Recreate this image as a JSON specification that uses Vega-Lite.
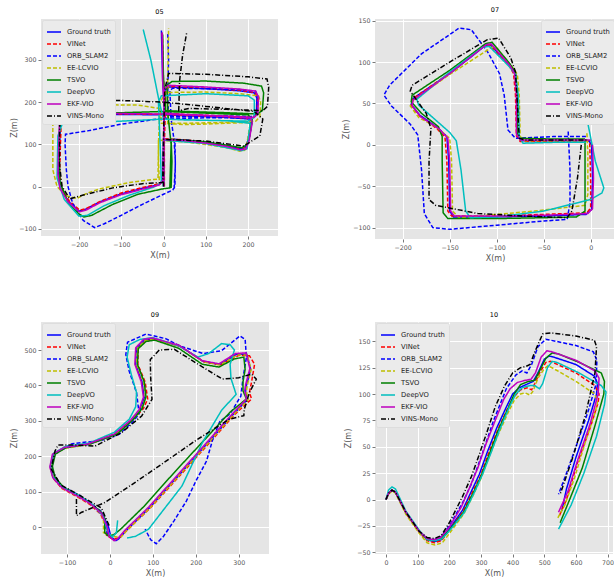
{
"$schema": "https://vega.github.io/schema/vega-lite/v6.json",
"background": "white",
"padding": {"left": 10, "top": 7, "right": 0, "bottom": 0},
"spacing": 48,
"config": {
  "font": "DejaVu Sans",
  "view": {"fill": "#E5E5E5", "stroke": null},
  "axis": {"gridColor": "#FFFFFF", "gridWidth": 1, "domain": false, "tickColor": "#555555", "tickSize": 3, "tickWidth": 0.8, "labelColor": "#555555", "labelFontSize": 6.3, "labelPadding": 2, "titleColor": "#555555", "titleFontSize": 8, "titleFontWeight": "normal", "labelFlush": false, "labelOverlap": false},
  "title": {"fontSize": 6.5, "fontWeight": "normal", "color": "#000000", "offset": 4},
  "legend": {"title": null, "symbolType": "stroke", "symbolSize": 196, "symbolStrokeWidth": 1.6, "labelFontSize": 6.8, "labelColor": "#222222", "fillColor": "#EBEBEB", "strokeColor": "#DDDDDD", "padding": 4, "offset": 1, "rowPadding": -1.5, "labelOffset": 5, "cornerRadius": 2}
},
"resolve": {"scale": {"color": "independent", "strokeDash": "independent"}, "legend": {"color": "independent", "strokeDash": "independent"}},
"datasets": {
"p05": [
{"m":"GT","x":0,"z":0},{"m":"GT","x":0,"z":60},{"m":"GT","x":0,"z":112},{"m":"GT","x":50,"z":110},{"m":"GT","x":100,"z":104},{"m":"GT","x":150,"z":96},{"m":"GT","x":180,"z":88},{"m":"GT","x":192,"z":90},{"m":"GT","x":200,"z":110},{"m":"GT","x":206,"z":150},{"m":"GT","x":204,"z":160},{"m":"GT","x":150,"z":164},{"m":"GT","x":100,"z":166},{"m":"GT","x":50,"z":168},{"m":"GT","x":0,"z":170},{"m":"GT","x":-100,"z":171},{"m":"GT","x":-200,"z":171},{"m":"GT","x":-238,"z":168},{"m":"GT","x":-244,"z":155},{"m":"GT","x":-246,"z":100},{"m":"GT","x":-248,"z":30},{"m":"GT","x":-243,"z":-5},{"m":"GT","x":-225,"z":-35},{"m":"GT","x":-200,"z":-58},{"m":"GT","x":-185,"z":-54},{"m":"GT","x":-150,"z":-36},{"m":"GT","x":-100,"z":-17},{"m":"GT","x":-50,"z":-4},{"m":"GT","x":-10,"z":5},{"m":"GT","x":-2,"z":15},{"m":"GT","x":0,"z":100},{"m":"GT","x":2,"z":170},{"m":"GT","x":3,"z":228},{"m":"GT","x":12,"z":236},{"m":"GT","x":100,"z":232},{"m":"GT","x":180,"z":227},{"m":"GT","x":215,"z":222},{"m":"GT","x":221,"z":210},{"m":"GT","x":220,"z":172},{"m":"GT","x":212,"z":163},{"m":"GT","x":150,"z":166},{"m":"GT","x":50,"z":170},{"m":"GT","x":3,"z":173},{"m":"GT","x":-2,"z":250},{"m":"GT","x":-5,"z":370},
{"m":"VI","x":2,"z":0},{"m":"VI","x":2,"z":60},{"m":"VI","x":2,"z":113},{"m":"VI","x":50,"z":111},{"m":"VI","x":100,"z":105},{"m":"VI","x":150,"z":97},{"m":"VI","x":182,"z":90},{"m":"VI","x":194,"z":92},{"m":"VI","x":202,"z":112},{"m":"VI","x":208,"z":150},{"m":"VI","x":206,"z":161},{"m":"VI","x":150,"z":165},{"m":"VI","x":100,"z":167},{"m":"VI","x":50,"z":169},{"m":"VI","x":2,"z":171},{"m":"VI","x":-100,"z":172},{"m":"VI","x":-200,"z":172},{"m":"VI","x":-236,"z":169},{"m":"VI","x":-242,"z":156},{"m":"VI","x":-244,"z":100},{"m":"VI","x":-246,"z":30},{"m":"VI","x":-241,"z":-4},{"m":"VI","x":-223,"z":-34},{"m":"VI","x":-198,"z":-56},{"m":"VI","x":-183,"z":-52},{"m":"VI","x":-148,"z":-34},{"m":"VI","x":-100,"z":-15},{"m":"VI","x":-50,"z":-2},{"m":"VI","x":-8,"z":7},{"m":"VI","x":0,"z":17},{"m":"VI","x":2,"z":100},{"m":"VI","x":4,"z":170},{"m":"VI","x":5,"z":229},{"m":"VI","x":14,"z":237},{"m":"VI","x":100,"z":233},{"m":"VI","x":180,"z":228},{"m":"VI","x":217,"z":223},{"m":"VI","x":223,"z":210},{"m":"VI","x":222,"z":172},{"m":"VI","x":214,"z":164},{"m":"VI","x":150,"z":167},{"m":"VI","x":50,"z":171},{"m":"VI","x":5,"z":174},{"m":"VI","x":0,"z":250},{"m":"VI","x":-3,"z":365},
{"m":"OR","x":25,"z":-5},{"m":"OR","x":28,"z":50},{"m":"OR","x":27,"z":112},{"m":"OR","x":100,"z":106},{"m":"OR","x":150,"z":98},{"m":"OR","x":183,"z":90},{"m":"OR","x":195,"z":93},{"m":"OR","x":203,"z":115},{"m":"OR","x":210,"z":155},{"m":"OR","x":205,"z":162},{"m":"OR","x":150,"z":163},{"m":"OR","x":100,"z":163},{"m":"OR","x":50,"z":162},{"m":"OR","x":0,"z":162},{"m":"OR","x":-13,"z":160},{"m":"OR","x":-100,"z":148},{"m":"OR","x":-180,"z":132},{"m":"OR","x":-232,"z":124},{"m":"OR","x":-233,"z":100},{"m":"OR","x":-230,"z":40},{"m":"OR","x":-226,"z":0},{"m":"OR","x":-215,"z":-40},{"m":"OR","x":-190,"z":-80},{"m":"OR","x":-163,"z":-97},{"m":"OR","x":-140,"z":-88},{"m":"OR","x":-100,"z":-68},{"m":"OR","x":-50,"z":-42},{"m":"OR","x":0,"z":-18},{"m":"OR","x":22,"z":-8},{"m":"OR","x":27,"z":0},{"m":"OR","x":28,"z":60},{"m":"OR","x":25,"z":110},{"m":"OR","x":18,"z":160},{"m":"OR","x":15,"z":228},{"m":"OR","x":22,"z":233},{"m":"OR","x":100,"z":232},{"m":"OR","x":180,"z":230},{"m":"OR","x":218,"z":226},{"m":"OR","x":224,"z":212},{"m":"OR","x":222,"z":175},{"m":"OR","x":212,"z":166},{"m":"OR","x":150,"z":167},{"m":"OR","x":50,"z":166},{"m":"OR","x":12,"z":166},{"m":"OR","x":10,"z":220},{"m":"OR","x":12,"z":300},{"m":"OR","x":10,"z":365},
{"m":"EE","x":-10,"z":15},{"m":"EE","x":-12,"z":60},{"m":"EE","x":-12,"z":110},{"m":"EE","x":50,"z":106},{"m":"EE","x":100,"z":100},{"m":"EE","x":150,"z":92},{"m":"EE","x":180,"z":84},{"m":"EE","x":192,"z":86},{"m":"EE","x":198,"z":105},{"m":"EE","x":205,"z":148},{"m":"EE","x":200,"z":152},{"m":"EE","x":150,"z":150},{"m":"EE","x":100,"z":148},{"m":"EE","x":50,"z":147},{"m":"EE","x":-5,"z":150},{"m":"EE","x":-8,"z":185},{"m":"EE","x":-60,"z":193},{"m":"EE","x":-150,"z":194},{"m":"EE","x":-240,"z":193},{"m":"EE","x":-255,"z":185},{"m":"EE","x":-262,"z":170},{"m":"EE","x":-262,"z":100},{"m":"EE","x":-262,"z":40},{"m":"EE","x":-252,"z":0},{"m":"EE","x":-230,"z":-22},{"m":"EE","x":-205,"z":-28},{"m":"EE","x":-180,"z":-15},{"m":"EE","x":-150,"z":-5},{"m":"EE","x":-80,"z":10},{"m":"EE","x":-13,"z":18},{"m":"EE","x":-12,"z":100},{"m":"EE","x":-8,"z":200},{"m":"EE","x":5,"z":223},{"m":"EE","x":100,"z":224},{"m":"EE","x":180,"z":220},{"m":"EE","x":225,"z":215},{"m":"EE","x":230,"z":200},{"m":"EE","x":228,"z":165},{"m":"EE","x":218,"z":155},{"m":"EE","x":150,"z":152},{"m":"EE","x":50,"z":150},{"m":"EE","x":10,"z":150},{"m":"EE","x":10,"z":250},{"m":"EE","x":12,"z":375},
{"m":"TS","x":18,"z":-3},{"m":"TS","x":20,"z":60},{"m":"TS","x":18,"z":112},{"m":"TS","x":100,"z":106},{"m":"TS","x":150,"z":98},{"m":"TS","x":185,"z":92},{"m":"TS","x":198,"z":100},{"m":"TS","x":204,"z":120},{"m":"TS","x":210,"z":160},{"m":"TS","x":200,"z":170},{"m":"TS","x":150,"z":172},{"m":"TS","x":50,"z":176},{"m":"TS","x":0,"z":178},{"m":"TS","x":-100,"z":175},{"m":"TS","x":-200,"z":172},{"m":"TS","x":-238,"z":168},{"m":"TS","x":-246,"z":140},{"m":"TS","x":-248,"z":100},{"m":"TS","x":-245,"z":10},{"m":"TS","x":-225,"z":-40},{"m":"TS","x":-200,"z":-65},{"m":"TS","x":-188,"z":-72},{"m":"TS","x":-170,"z":-68},{"m":"TS","x":-120,"z":-42},{"m":"TS","x":-60,"z":-18},{"m":"TS","x":0,"z":-5},{"m":"TS","x":15,"z":-3},{"m":"TS","x":18,"z":100},{"m":"TS","x":10,"z":175},{"m":"TS","x":8,"z":240},{"m":"TS","x":20,"z":249},{"m":"TS","x":100,"z":250},{"m":"TS","x":190,"z":245},{"m":"TS","x":232,"z":238},{"m":"TS","x":237,"z":222},{"m":"TS","x":234,"z":180},{"m":"TS","x":222,"z":172},{"m":"TS","x":150,"z":175},{"m":"TS","x":50,"z":178},{"m":"TS","x":5,"z":180},{"m":"TS","x":0,"z":260},{"m":"TS","x":-2,"z":360},
{"m":"DV","x":0,"z":0},{"m":"DV","x":0,"z":110},{"m":"DV","x":100,"z":102},{"m":"DV","x":185,"z":85},{"m":"DV","x":198,"z":90},{"m":"DV","x":205,"z":150},{"m":"DV","x":150,"z":156},{"m":"DV","x":50,"z":158},{"m":"DV","x":0,"z":160},{"m":"DV","x":-100,"z":155},{"m":"DV","x":-200,"z":150},{"m":"DV","x":-240,"z":148},{"m":"DV","x":-250,"z":120},{"m":"DV","x":-252,"z":20},{"m":"DV","x":-235,"z":-30},{"m":"DV","x":-200,"z":-70},{"m":"DV","x":-180,"z":-68},{"m":"DV","x":-140,"z":-45},{"m":"DV","x":-80,"z":-20},{"m":"DV","x":-20,"z":0},{"m":"DV","x":-5,"z":10},{"m":"DV","x":-8,"z":100},{"m":"DV","x":-12,"z":200},{"m":"DV","x":-5,"z":215},{"m":"DV","x":100,"z":220},{"m":"DV","x":200,"z":215},{"m":"DV","x":215,"z":205},{"m":"DV","x":215,"z":165},{"m":"DV","x":200,"z":155},{"m":"DV","x":100,"z":157},{"m":"DV","x":0,"z":160},{"m":"DV","x":-10,"z":200},{"m":"DV","x":-30,"z":300},{"m":"DV","x":-48,"z":372},
{"m":"EK","x":1,"z":0},{"m":"EK","x":1,"z":60},{"m":"EK","x":1,"z":111},{"m":"EK","x":50,"z":109},{"m":"EK","x":100,"z":103},{"m":"EK","x":150,"z":95},{"m":"EK","x":182,"z":87},{"m":"EK","x":195,"z":89},{"m":"EK","x":203,"z":110},{"m":"EK","x":210,"z":152},{"m":"EK","x":207,"z":162},{"m":"EK","x":150,"z":166},{"m":"EK","x":100,"z":168},{"m":"EK","x":50,"z":170},{"m":"EK","x":1,"z":172},{"m":"EK","x":-100,"z":173},{"m":"EK","x":-200,"z":173},{"m":"EK","x":-240,"z":170},{"m":"EK","x":-246,"z":156},{"m":"EK","x":-248,"z":100},{"m":"EK","x":-250,"z":30},{"m":"EK","x":-245,"z":-5},{"m":"EK","x":-226,"z":-36},{"m":"EK","x":-199,"z":-60},{"m":"EK","x":-184,"z":-56},{"m":"EK","x":-150,"z":-38},{"m":"EK","x":-100,"z":-19},{"m":"EK","x":-50,"z":-6},{"m":"EK","x":-10,"z":4},{"m":"EK","x":-2,"z":14},{"m":"EK","x":0,"z":100},{"m":"EK","x":1,"z":172},{"m":"EK","x":2,"z":232},{"m":"EK","x":12,"z":240},{"m":"EK","x":100,"z":236},{"m":"EK","x":180,"z":231},{"m":"EK","x":218,"z":226},{"m":"EK","x":225,"z":212},{"m":"EK","x":223,"z":172},{"m":"EK","x":214,"z":164},{"m":"EK","x":150,"z":167},{"m":"EK","x":50,"z":171},{"m":"EK","x":2,"z":174},{"m":"EK","x":-2,"z":250},{"m":"EK","x":-3,"z":365},
{"m":"VM","x":0,"z":0},{"m":"VM","x":0,"z":112},{"m":"VM","x":100,"z":108},{"m":"VM","x":190,"z":96},{"m":"VM","x":228,"z":120},{"m":"VM","x":235,"z":160},{"m":"VM","x":215,"z":178},{"m":"VM","x":100,"z":190},{"m":"VM","x":0,"z":200},{"m":"VM","x":-100,"z":204},{"m":"VM","x":-200,"z":205},{"m":"VM","x":-242,"z":203},{"m":"VM","x":-246,"z":150},{"m":"VM","x":-246,"z":50},{"m":"VM","x":-240,"z":0},{"m":"VM","x":-222,"z":-29},{"m":"VM","x":-190,"z":-20},{"m":"VM","x":-120,"z":-3},{"m":"VM","x":-50,"z":7},{"m":"VM","x":-2,"z":10},{"m":"VM","x":0,"z":120},{"m":"VM","x":3,"z":230},{"m":"VM","x":12,"z":268},{"m":"VM","x":100,"z":266},{"m":"VM","x":200,"z":260},{"m":"VM","x":245,"z":255},{"m":"VM","x":249,"z":235},{"m":"VM","x":246,"z":190},{"m":"VM","x":235,"z":180},{"m":"VM","x":150,"z":183},{"m":"VM","x":60,"z":185},{"m":"VM","x":36,"z":180},{"m":"VM","x":38,"z":250},{"m":"VM","x":45,"z":310},{"m":"VM","x":55,"z":365}
],
"p07": [
{"m":"GT","x":0,"z":5},{"m":"GT","x":-40,"z":5},{"m":"GT","x":-74,"z":5},{"m":"GT","x":-78,"z":12},{"m":"GT","x":-78,"z":60},{"m":"GT","x":-80,"z":85},{"m":"GT","x":-85,"z":95},{"m":"GT","x":-107,"z":121},{"m":"GT","x":-112,"z":120},{"m":"GT","x":-150,"z":86},{"m":"GT","x":-189,"z":56},{"m":"GT","x":-191,"z":49},{"m":"GT","x":-182,"z":36},{"m":"GT","x":-162,"z":20},{"m":"GT","x":-153,"z":10},{"m":"GT","x":-151,"z":-20},{"m":"GT","x":-150,"z":-80},{"m":"GT","x":-146,"z":-87},{"m":"GT","x":-100,"z":-87},{"m":"GT","x":-50,"z":-86},{"m":"GT","x":-5,"z":-84},{"m":"GT","x":1,"z":-78},{"m":"GT","x":2,"z":-40},{"m":"GT","x":1,"z":0},{"m":"GT","x":-2,"z":5},{"m":"GT","x":-20,"z":5},
{"m":"VI","x":-2,"z":5},{"m":"VI","x":-40,"z":4},{"m":"VI","x":-75,"z":4},{"m":"VI","x":-79,"z":11},{"m":"VI","x":-80,"z":60},{"m":"VI","x":-82,"z":86},{"m":"VI","x":-87,"z":96},{"m":"VI","x":-108,"z":121},{"m":"VI","x":-113,"z":120},{"m":"VI","x":-151,"z":86},{"m":"VI","x":-190,"z":55},{"m":"VI","x":-191,"z":48},{"m":"VI","x":-182,"z":35},{"m":"VI","x":-163,"z":19},{"m":"VI","x":-155,"z":9},{"m":"VI","x":-153,"z":-20},{"m":"VI","x":-152,"z":-80},{"m":"VI","x":-148,"z":-86},{"m":"VI","x":-100,"z":-86},{"m":"VI","x":-50,"z":-84},{"m":"VI","x":-4,"z":-82},{"m":"VI","x":0,"z":-76},{"m":"VI","x":0,"z":-40},{"m":"VI","x":-1,"z":2},
{"m":"OR","x":-5,"z":10},{"m":"OR","x":-40,"z":10},{"m":"OR","x":-80,"z":8},{"m":"OR","x":-88,"z":18},{"m":"OR","x":-92,"z":60},{"m":"OR","x":-97,"z":86},{"m":"OR","x":-110,"z":113},{"m":"OR","x":-127,"z":139},{"m":"OR","x":-140,"z":141},{"m":"OR","x":-180,"z":110},{"m":"OR","x":-214,"z":72},{"m":"OR","x":-220,"z":60},{"m":"OR","x":-212,"z":47},{"m":"OR","x":-192,"z":25},{"m":"OR","x":-184,"z":12},{"m":"OR","x":-180,"z":-30},{"m":"OR","x":-177,"z":-83},{"m":"OR","x":-168,"z":-100},{"m":"OR","x":-150,"z":-102},{"m":"OR","x":-100,"z":-97},{"m":"OR","x":-50,"z":-92},{"m":"OR","x":-25,"z":-90},{"m":"OR","x":-22,"z":-70},{"m":"OR","x":-22,"z":-30},{"m":"OR","x":-24,"z":18},
{"m":"EE","x":-4,"z":14},{"m":"EE","x":-3,"z":-10},{"m":"EE","x":-3,"z":-60},{"m":"EE","x":-6,"z":-73},{"m":"EE","x":-60,"z":-80},{"m":"EE","x":-140,"z":-88},{"m":"EE","x":-147,"z":-80},{"m":"EE","x":-148,"z":-20},{"m":"EE","x":-150,"z":8},{"m":"EE","x":-165,"z":22},{"m":"EE","x":-183,"z":33},{"m":"EE","x":-192,"z":47},{"m":"EE","x":-188,"z":55},{"m":"EE","x":-150,"z":85},{"m":"EE","x":-105,"z":118},{"m":"EE","x":-100,"z":117},{"m":"EE","x":-82,"z":92},{"m":"EE","x":-78,"z":85},{"m":"EE","x":-76,"z":60},{"m":"EE","x":-75,"z":10},{"m":"EE","x":-70,"z":5},{"m":"EE","x":-30,"z":5},{"m":"EE","x":-4,"z":5},
{"m":"TS","x":-6,"z":7},{"m":"TS","x":-40,"z":7},{"m":"TS","x":-76,"z":8},{"m":"TS","x":-78,"z":15},{"m":"TS","x":-78,"z":60},{"m":"TS","x":-80,"z":87},{"m":"TS","x":-86,"z":98},{"m":"TS","x":-105,"z":124},{"m":"TS","x":-112,"z":122},{"m":"TS","x":-150,"z":90},{"m":"TS","x":-190,"z":60},{"m":"TS","x":-191,"z":52},{"m":"TS","x":-180,"z":38},{"m":"TS","x":-162,"z":22},{"m":"TS","x":-158,"z":10},{"m":"TS","x":-158,"z":-20},{"m":"TS","x":-157,"z":-82},{"m":"TS","x":-152,"z":-89},{"m":"TS","x":-100,"z":-89},{"m":"TS","x":-50,"z":-88},{"m":"TS","x":-15,"z":-87},{"m":"TS","x":-6,"z":-80},{"m":"TS","x":-6,"z":-40},{"m":"TS","x":-6,"z":7},
{"m":"DV","x":-5,"z":3},{"m":"DV","x":-40,"z":3},{"m":"DV","x":-72,"z":2},{"m":"DV","x":-76,"z":10},{"m":"DV","x":-77,"z":60},{"m":"DV","x":-80,"z":85},{"m":"DV","x":-87,"z":95},{"m":"DV","x":-108,"z":119},{"m":"DV","x":-115,"z":118},{"m":"DV","x":-150,"z":88},{"m":"DV","x":-185,"z":55},{"m":"DV","x":-183,"z":48},{"m":"DV","x":-165,"z":30},{"m":"DV","x":-150,"z":15},{"m":"DV","x":-143,"z":5},{"m":"DV","x":-138,"z":-30},{"m":"DV","x":-133,"z":-80},{"m":"DV","x":-128,"z":-88},{"m":"DV","x":-100,"z":-87},{"m":"DV","x":-50,"z":-80},{"m":"DV","x":0,"z":-66},{"m":"DV","x":12,"z":-58},{"m":"DV","x":14,"z":-52},{"m":"DV","x":5,"z":-20},{"m":"DV","x":-3,"z":26},
{"m":"EK","x":0,"z":6},{"m":"EK","x":-40,"z":6},{"m":"EK","x":-75,"z":6},{"m":"EK","x":-79,"z":13},{"m":"EK","x":-79,"z":60},{"m":"EK","x":-81,"z":86},{"m":"EK","x":-86,"z":96},{"m":"EK","x":-106,"z":122},{"m":"EK","x":-111,"z":121},{"m":"EK","x":-149,"z":87},{"m":"EK","x":-189,"z":54},{"m":"EK","x":-190,"z":47},{"m":"EK","x":-181,"z":34},{"m":"EK","x":-161,"z":19},{"m":"EK","x":-152,"z":8},{"m":"EK","x":-150,"z":-20},{"m":"EK","x":-149,"z":-80},{"m":"EK","x":-145,"z":-86},{"m":"EK","x":-100,"z":-86},{"m":"EK","x":-50,"z":-85},{"m":"EK","x":-3,"z":-83},{"m":"EK","x":2,"z":-77},{"m":"EK","x":3,"z":-40},{"m":"EK","x":2,"z":0},
{"m":"VM","x":-10,"z":0},{"m":"VM","x":-14,"z":-40},{"m":"VM","x":-20,"z":-80},{"m":"VM","x":-25,"z":-88},{"m":"VM","x":-70,"z":-86},{"m":"VM","x":-120,"z":-83},{"m":"VM","x":-165,"z":-73},{"m":"VM","x":-172,"z":-66},{"m":"VM","x":-172,"z":-20},{"m":"VM","x":-170,"z":20},{"m":"VM","x":-175,"z":38},{"m":"VM","x":-192,"z":65},{"m":"VM","x":-190,"z":72},{"m":"VM","x":-150,"z":100},{"m":"VM","x":-110,"z":127},{"m":"VM","x":-98,"z":129},{"m":"VM","x":-85,"z":105},{"m":"VM","x":-80,"z":88},{"m":"VM","x":-78,"z":50},{"m":"VM","x":-76,"z":8},{"m":"VM","x":-70,"z":6},{"m":"VM","x":-30,"z":6},{"m":"VM","x":-3,"z":6}
],
"p09": [
{"m":"GT","x":13,"z":-38},{"m":"GT","x":2,"z":-25},{"m":"GT","x":-3,"z":0},{"m":"GT","x":-18,"z":40},{"m":"GT","x":-45,"z":68},{"m":"GT","x":-73,"z":88},{"m":"GT","x":-110,"z":112},{"m":"GT","x":-130,"z":140},{"m":"GT","x":-137,"z":170},{"m":"GT","x":-131,"z":205},{"m":"GT","x":-104,"z":224},{"m":"GT","x":-49,"z":234},{"m":"GT","x":13,"z":262},{"m":"GT","x":50,"z":300},{"m":"GT","x":70,"z":330},{"m":"GT","x":80,"z":365},{"m":"GT","x":75,"z":410},{"m":"GT","x":60,"z":460},{"m":"GT","x":62,"z":505},{"m":"GT","x":80,"z":528},{"m":"GT","x":100,"z":532},{"m":"GT","x":162,"z":512},{"m":"GT","x":217,"z":468},{"m":"GT","x":256,"z":459},{"m":"GT","x":295,"z":488},{"m":"GT","x":319,"z":488},{"m":"GT","x":328,"z":445},{"m":"GT","x":318,"z":400},{"m":"GT","x":316,"z":384},{"m":"GT","x":320,"z":360},{"m":"GT","x":287,"z":318},{"m":"GT","x":225,"z":234},{"m":"GT","x":162,"z":149},{"m":"GT","x":92,"z":55},{"m":"GT","x":37,"z":-10},{"m":"GT","x":20,"z":-33},{"m":"GT","x":13,"z":-38},
{"m":"VI","x":5,"z":-32},{"m":"VI","x":-8,"z":-22},{"m":"VI","x":-8,"z":0},{"m":"VI","x":-22,"z":38},{"m":"VI","x":-48,"z":66},{"m":"VI","x":-76,"z":86},{"m":"VI","x":-112,"z":110},{"m":"VI","x":-132,"z":138},{"m":"VI","x":-139,"z":170},{"m":"VI","x":-133,"z":206},{"m":"VI","x":-106,"z":226},{"m":"VI","x":-50,"z":236},{"m":"VI","x":15,"z":265},{"m":"VI","x":55,"z":305},{"m":"VI","x":78,"z":335},{"m":"VI","x":88,"z":362},{"m":"VI","x":82,"z":410},{"m":"VI","x":65,"z":460},{"m":"VI","x":66,"z":505},{"m":"VI","x":84,"z":526},{"m":"VI","x":104,"z":530},{"m":"VI","x":164,"z":510},{"m":"VI","x":220,"z":466},{"m":"VI","x":258,"z":458},{"m":"VI","x":300,"z":485},{"m":"VI","x":325,"z":484},{"m":"VI","x":337,"z":460},{"m":"VI","x":330,"z":410},{"m":"VI","x":325,"z":380},{"m":"VI","x":330,"z":362},{"m":"VI","x":292,"z":320},{"m":"VI","x":230,"z":236},{"m":"VI","x":166,"z":150},{"m":"VI","x":95,"z":56},{"m":"VI","x":40,"z":-8},{"m":"VI","x":22,"z":-30},{"m":"VI","x":5,"z":-32},
{"m":"OR","x":-5,"z":-20},{"m":"OR","x":-20,"z":45},{"m":"OR","x":-70,"z":90},{"m":"OR","x":-115,"z":118},{"m":"OR","x":-135,"z":160},{"m":"OR","x":-131,"z":208},{"m":"OR","x":-88,"z":236},{"m":"OR","x":-20,"z":245},{"m":"OR","x":21,"z":262},{"m":"OR","x":55,"z":300},{"m":"OR","x":68,"z":320},{"m":"OR","x":62,"z":380},{"m":"OR","x":45,"z":440},{"m":"OR","x":37,"z":487},{"m":"OR","x":41,"z":522},{"m":"OR","x":84,"z":545},{"m":"OR","x":130,"z":532},{"m":"OR","x":162,"z":512},{"m":"OR","x":217,"z":490},{"m":"OR","x":260,"z":498},{"m":"OR","x":303,"z":540},{"m":"OR","x":315,"z":530},{"m":"OR","x":318,"z":480},{"m":"OR","x":310,"z":420},{"m":"OR","x":305,"z":370},{"m":"OR","x":280,"z":320},{"m":"OR","x":256,"z":299},{"m":"OR","x":240,"z":250},{"m":"OR","x":225,"z":187},{"m":"OR","x":200,"z":130},{"m":"OR","x":178,"z":74},{"m":"OR","x":150,"z":20},{"m":"OR","x":125,"z":-25},{"m":"OR","x":108,"z":-46},{"m":"OR","x":95,"z":-35},{"m":"OR","x":82,"z":-5},
{"m":"EE","x":18,"z":-28},{"m":"EE","x":-15,"z":-15},{"m":"EE","x":-15,"z":20},{"m":"EE","x":-20,"z":42},{"m":"EE","x":-46,"z":67},{"m":"EE","x":-74,"z":87},{"m":"EE","x":-111,"z":111},{"m":"EE","x":-131,"z":139},{"m":"EE","x":-138,"z":170},{"m":"EE","x":-132,"z":205},{"m":"EE","x":-105,"z":223},{"m":"EE","x":-50,"z":233},{"m":"EE","x":12,"z":261},{"m":"EE","x":52,"z":302},{"m":"EE","x":72,"z":332},{"m":"EE","x":83,"z":365},{"m":"EE","x":78,"z":410},{"m":"EE","x":62,"z":460},{"m":"EE","x":64,"z":505},{"m":"EE","x":82,"z":526},{"m":"EE","x":102,"z":530},{"m":"EE","x":163,"z":511},{"m":"EE","x":218,"z":467},{"m":"EE","x":257,"z":458},{"m":"EE","x":296,"z":486},{"m":"EE","x":320,"z":486},{"m":"EE","x":329,"z":445},{"m":"EE","x":320,"z":400},{"m":"EE","x":318,"z":385},{"m":"EE","x":322,"z":360},{"m":"EE","x":288,"z":318},{"m":"EE","x":226,"z":234},{"m":"EE","x":163,"z":149},{"m":"EE","x":93,"z":55},{"m":"EE","x":38,"z":-10},{"m":"EE","x":25,"z":-28},
{"m":"TS","x":-3,"z":-25},{"m":"TS","x":-12,"z":-15},{"m":"TS","x":-12,"z":25},{"m":"TS","x":-22,"z":45},{"m":"TS","x":-48,"z":70},{"m":"TS","x":-74,"z":90},{"m":"TS","x":-108,"z":113},{"m":"TS","x":-128,"z":142},{"m":"TS","x":-134,"z":172},{"m":"TS","x":-127,"z":207},{"m":"TS","x":-100,"z":226},{"m":"TS","x":-45,"z":236},{"m":"TS","x":18,"z":264},{"m":"TS","x":55,"z":305},{"m":"TS","x":75,"z":335},{"m":"TS","x":84,"z":368},{"m":"TS","x":80,"z":410},{"m":"TS","x":64,"z":460},{"m":"TS","x":66,"z":504},{"m":"TS","x":84,"z":524},{"m":"TS","x":104,"z":528},{"m":"TS","x":160,"z":505},{"m":"TS","x":215,"z":460},{"m":"TS","x":254,"z":452},{"m":"TS","x":290,"z":475},{"m":"TS","x":312,"z":480},{"m":"TS","x":315,"z":445},{"m":"TS","x":310,"z":410},{"m":"TS","x":310,"z":385},{"m":"TS","x":318,"z":362},{"m":"TS","x":280,"z":325},{"m":"TS","x":215,"z":240},{"m":"TS","x":150,"z":155},{"m":"TS","x":80,"z":60},{"m":"TS","x":25,"z":-5},{"m":"TS","x":10,"z":-20},{"m":"TS","x":-3,"z":-25},
{"m":"DV","x":18,"z":20},{"m":"DV","x":15,"z":-15},{"m":"DV","x":5,"z":-28},{"m":"DV","x":-6,"z":-10},{"m":"DV","x":-15,"z":30},{"m":"DV","x":-42,"z":66},{"m":"DV","x":-72,"z":90},{"m":"DV","x":-112,"z":114},{"m":"DV","x":-133,"z":142},{"m":"DV","x":-139,"z":172},{"m":"DV","x":-132,"z":208},{"m":"DV","x":-104,"z":228},{"m":"DV","x":-48,"z":238},{"m":"DV","x":10,"z":268},{"m":"DV","x":45,"z":305},{"m":"DV","x":60,"z":340},{"m":"DV","x":62,"z":380},{"m":"DV","x":50,"z":430},{"m":"DV","x":40,"z":480},{"m":"DV","x":45,"z":515},{"m":"DV","x":70,"z":530},{"m":"DV","x":100,"z":535},{"m":"DV","x":160,"z":512},{"m":"DV","x":205,"z":480},{"m":"DV","x":230,"z":490},{"m":"DV","x":260,"z":518},{"m":"DV","x":280,"z":515},{"m":"DV","x":290,"z":500},{"m":"DV","x":280,"z":460},{"m":"DV","x":282,"z":420},{"m":"DV","x":294,"z":375},{"m":"DV","x":260,"z":330},{"m":"DV","x":215,"z":238},{"m":"DV","x":168,"z":117},{"m":"DV","x":90,"z":-5},{"m":"DV","x":60,"z":-25},{"m":"DV","x":40,"z":-30},
{"m":"EK","x":10,"z":-38},{"m":"EK","x":-2,"z":-25},{"m":"EK","x":-6,"z":0},{"m":"EK","x":-20,"z":40},{"m":"EK","x":-47,"z":68},{"m":"EK","x":-75,"z":88},{"m":"EK","x":-112,"z":112},{"m":"EK","x":-133,"z":140},{"m":"EK","x":-140,"z":170},{"m":"EK","x":-134,"z":206},{"m":"EK","x":-107,"z":225},{"m":"EK","x":-52,"z":235},{"m":"EK","x":10,"z":263},{"m":"EK","x":48,"z":302},{"m":"EK","x":68,"z":332},{"m":"EK","x":78,"z":367},{"m":"EK","x":73,"z":410},{"m":"EK","x":58,"z":460},{"m":"EK","x":60,"z":506},{"m":"EK","x":78,"z":530},{"m":"EK","x":98,"z":534},{"m":"EK","x":160,"z":514},{"m":"EK","x":215,"z":470},{"m":"EK","x":254,"z":461},{"m":"EK","x":292,"z":490},{"m":"EK","x":317,"z":492},{"m":"EK","x":326,"z":448},{"m":"EK","x":316,"z":402},{"m":"EK","x":314,"z":386},{"m":"EK","x":318,"z":362},{"m":"EK","x":285,"z":320},{"m":"EK","x":223,"z":236},{"m":"EK","x":160,"z":151},{"m":"EK","x":90,"z":57},{"m":"EK","x":35,"z":-8},{"m":"EK","x":18,"z":-32},{"m":"EK","x":10,"z":-38},
{"m":"VM","x":-2,"z":5},{"m":"VM","x":-20,"z":55},{"m":"VM","x":-70,"z":90},{"m":"VM","x":-115,"z":120},{"m":"VM","x":-137,"z":165},{"m":"VM","x":-128,"z":215},{"m":"VM","x":-121,"z":232},{"m":"VM","x":-80,"z":232},{"m":"VM","x":-35,"z":229},{"m":"VM","x":27,"z":267},{"m":"VM","x":74,"z":314},{"m":"VM","x":98,"z":361},{"m":"VM","x":95,"z":420},{"m":"VM","x":94,"z":473},{"m":"VM","x":115,"z":500},{"m":"VM","x":150,"z":502},{"m":"VM","x":200,"z":464},{"m":"VM","x":262,"z":418},{"m":"VM","x":300,"z":422},{"m":"VM","x":330,"z":432},{"m":"VM","x":341,"z":418},{"m":"VM","x":325,"z":380},{"m":"VM","x":313,"z":333},{"m":"VM","x":312,"z":315},{"m":"VM","x":278,"z":305},{"m":"VM","x":200,"z":245},{"m":"VM","x":137,"z":192},{"m":"VM","x":59,"z":127},{"m":"VM","x":-12,"z":70},{"m":"VM","x":-67,"z":42},{"m":"VM","x":-78,"z":33},{"m":"VM","x":-78,"z":80}
],
"p10": [
{"m":"GT","x":0,"z":0},{"m":"GT","x":8,"z":6},{"m":"GT","x":19,"z":9},{"m":"GT","x":30,"z":7},{"m":"GT","x":63,"z":-12},{"m":"GT","x":105,"z":-30},{"m":"GT","x":130,"z":-38},{"m":"GT","x":153,"z":-40},{"m":"GT","x":175,"z":-38},{"m":"GT","x":200,"z":-28},{"m":"GT","x":242,"z":-10},{"m":"GT","x":270,"z":8},{"m":"GT","x":295,"z":24},{"m":"GT","x":320,"z":45},{"m":"GT","x":350,"z":68},{"m":"GT","x":379,"z":87},{"m":"GT","x":400,"z":100},{"m":"GT","x":421,"z":106},{"m":"GT","x":450,"z":110},{"m":"GT","x":465,"z":112},{"m":"GT","x":480,"z":120},{"m":"GT","x":500,"z":133},{"m":"GT","x":515,"z":136},{"m":"GT","x":530,"z":135},{"m":"GT","x":600,"z":128},{"m":"GT","x":658,"z":117},{"m":"GT","x":668,"z":110},{"m":"GT","x":665,"z":100},{"m":"GT","x":640,"z":75},{"m":"GT","x":600,"z":40},{"m":"GT","x":570,"z":10},{"m":"GT","x":555,"z":-11},
{"m":"VI","x":0,"z":0},{"m":"VI","x":8,"z":6},{"m":"VI","x":19,"z":9},{"m":"VI","x":30,"z":7},{"m":"VI","x":63,"z":-13},{"m":"VI","x":105,"z":-31},{"m":"VI","x":130,"z":-39},{"m":"VI","x":153,"z":-41},{"m":"VI","x":175,"z":-39},{"m":"VI","x":200,"z":-29},{"m":"VI","x":242,"z":-12},{"m":"VI","x":270,"z":5},{"m":"VI","x":298,"z":22},{"m":"VI","x":323,"z":43},{"m":"VI","x":353,"z":66},{"m":"VI","x":382,"z":85},{"m":"VI","x":403,"z":97},{"m":"VI","x":425,"z":104},{"m":"VI","x":445,"z":106},{"m":"VI","x":460,"z":104},{"m":"VI","x":470,"z":110},{"m":"VI","x":485,"z":120},{"m":"VI","x":505,"z":130},{"m":"VI","x":520,"z":131},{"m":"VI","x":600,"z":120},{"m":"VI","x":660,"z":108},{"m":"VI","x":673,"z":100},{"m":"VI","x":670,"z":92},{"m":"VI","x":645,"z":68},{"m":"VI","x":605,"z":35},{"m":"VI","x":570,"z":0},{"m":"VI","x":548,"z":-15},
{"m":"OR","x":0,"z":0},{"m":"OR","x":8,"z":6},{"m":"OR","x":19,"z":9},{"m":"OR","x":30,"z":7},{"m":"OR","x":63,"z":-12},{"m":"OR","x":105,"z":-30},{"m":"OR","x":130,"z":-37},{"m":"OR","x":153,"z":-38},{"m":"OR","x":175,"z":-35},{"m":"OR","x":200,"z":-25},{"m":"OR","x":242,"z":-3},{"m":"OR","x":270,"z":15},{"m":"OR","x":300,"z":40},{"m":"OR","x":340,"z":75},{"m":"OR","x":380,"z":105},{"m":"OR","x":410,"z":118},{"m":"OR","x":430,"z":122},{"m":"OR","x":445,"z":120},{"m":"OR","x":460,"z":128},{"m":"OR","x":480,"z":145},{"m":"OR","x":505,"z":152},{"m":"OR","x":600,"z":146},{"m":"OR","x":655,"z":140},{"m":"OR","x":666,"z":132},{"m":"OR","x":664,"z":110},{"m":"OR","x":640,"z":85},{"m":"OR","x":600,"z":50},{"m":"OR","x":570,"z":25},{"m":"OR","x":545,"z":5},
{"m":"EE","x":0,"z":0},{"m":"EE","x":8,"z":5},{"m":"EE","x":19,"z":8},{"m":"EE","x":30,"z":6},{"m":"EE","x":63,"z":-14},{"m":"EE","x":105,"z":-32},{"m":"EE","x":130,"z":-41},{"m":"EE","x":155,"z":-43},{"m":"EE","x":178,"z":-41},{"m":"EE","x":203,"z":-31},{"m":"EE","x":245,"z":-14},{"m":"EE","x":275,"z":4},{"m":"EE","x":300,"z":20},{"m":"EE","x":325,"z":40},{"m":"EE","x":355,"z":62},{"m":"EE","x":385,"z":82},{"m":"EE","x":405,"z":94},{"m":"EE","x":425,"z":100},{"m":"EE","x":440,"z":101},{"m":"EE","x":455,"z":99},{"m":"EE","x":465,"z":103},{"m":"EE","x":480,"z":115},{"m":"EE","x":500,"z":124},{"m":"EE","x":512,"z":127},{"m":"EE","x":530,"z":124},{"m":"EE","x":600,"z":112},{"m":"EE","x":660,"z":100},{"m":"EE","x":668,"z":92},{"m":"EE","x":660,"z":82},{"m":"EE","x":630,"z":55},{"m":"EE","x":595,"z":20},{"m":"EE","x":565,"z":-5},{"m":"EE","x":540,"z":-19},
{"m":"TS","x":0,"z":0},{"m":"TS","x":8,"z":6},{"m":"TS","x":19,"z":9},{"m":"TS","x":30,"z":7},{"m":"TS","x":63,"z":-12},{"m":"TS","x":105,"z":-30},{"m":"TS","x":130,"z":-38},{"m":"TS","x":153,"z":-39},{"m":"TS","x":175,"z":-37},{"m":"TS","x":200,"z":-29},{"m":"TS","x":245,"z":-12},{"m":"TS","x":275,"z":6},{"m":"TS","x":300,"z":22},{"m":"TS","x":325,"z":42},{"m":"TS","x":355,"z":66},{"m":"TS","x":385,"z":86},{"m":"TS","x":405,"z":100},{"m":"TS","x":425,"z":109},{"m":"TS","x":450,"z":112},{"m":"TS","x":470,"z":113},{"m":"TS","x":485,"z":122},{"m":"TS","x":505,"z":134},{"m":"TS","x":525,"z":139},{"m":"TS","x":545,"z":138},{"m":"TS","x":610,"z":130},{"m":"TS","x":680,"z":120},{"m":"TS","x":690,"z":112},{"m":"TS","x":688,"z":100},{"m":"TS","x":660,"z":70},{"m":"TS","x":620,"z":30},{"m":"TS","x":580,"z":0},{"m":"TS","x":550,"z":-22},
{"m":"DV","x":0,"z":0},{"m":"DV","x":8,"z":9},{"m":"DV","x":19,"z":12},{"m":"DV","x":30,"z":10},{"m":"DV","x":63,"z":-11},{"m":"DV","x":105,"z":-29},{"m":"DV","x":130,"z":-38},{"m":"DV","x":155,"z":-39},{"m":"DV","x":178,"z":-37},{"m":"DV","x":205,"z":-28},{"m":"DV","x":248,"z":-12},{"m":"DV","x":278,"z":6},{"m":"DV","x":305,"z":24},{"m":"DV","x":330,"z":43},{"m":"DV","x":360,"z":67},{"m":"DV","x":390,"z":88},{"m":"DV","x":410,"z":100},{"m":"DV","x":430,"z":106},{"m":"DV","x":455,"z":108},{"m":"DV","x":470,"z":108},{"m":"DV","x":485,"z":105},{"m":"DV","x":495,"z":110},{"m":"DV","x":510,"z":125},{"m":"DV","x":525,"z":131},{"m":"DV","x":540,"z":130},{"m":"DV","x":610,"z":120},{"m":"DV","x":680,"z":108},{"m":"DV","x":695,"z":102},{"m":"DV","x":690,"z":90},{"m":"DV","x":665,"z":60},{"m":"DV","x":625,"z":25},{"m":"DV","x":585,"z":-5},{"m":"DV","x":545,"z":-28},
{"m":"EK","x":0,"z":0},{"m":"EK","x":8,"z":6},{"m":"EK","x":19,"z":9},{"m":"EK","x":30,"z":7},{"m":"EK","x":63,"z":-12},{"m":"EK","x":105,"z":-30},{"m":"EK","x":130,"z":-37},{"m":"EK","x":152,"z":-38},{"m":"EK","x":172,"z":-36},{"m":"EK","x":198,"z":-27},{"m":"EK","x":238,"z":-7},{"m":"EK","x":265,"z":12},{"m":"EK","x":290,"z":30},{"m":"EK","x":315,"z":52},{"m":"EK","x":345,"z":75},{"m":"EK","x":372,"z":95},{"m":"EK","x":392,"z":105},{"m":"EK","x":415,"z":111},{"m":"EK","x":440,"z":113},{"m":"EK","x":458,"z":114},{"m":"EK","x":472,"z":120},{"m":"EK","x":490,"z":135},{"m":"EK","x":508,"z":141},{"m":"EK","x":525,"z":140},{"m":"EK","x":600,"z":132},{"m":"EK","x":660,"z":122},{"m":"EK","x":673,"z":115},{"m":"EK","x":670,"z":100},{"m":"EK","x":645,"z":72},{"m":"EK","x":605,"z":37},{"m":"EK","x":575,"z":8},{"m":"EK","x":545,"z":-12},
{"m":"VM","x":0,"z":0},{"m":"VM","x":8,"z":6},{"m":"VM","x":19,"z":9},{"m":"VM","x":30,"z":7},{"m":"VM","x":63,"z":-12},{"m":"VM","x":105,"z":-30},{"m":"VM","x":130,"z":-36},{"m":"VM","x":153,"z":-37},{"m":"VM","x":175,"z":-34},{"m":"VM","x":200,"z":-22},{"m":"VM","x":242,"z":3},{"m":"VM","x":270,"z":22},{"m":"VM","x":295,"z":43},{"m":"VM","x":320,"z":65},{"m":"VM","x":345,"z":88},{"m":"VM","x":375,"z":108},{"m":"VM","x":400,"z":120},{"m":"VM","x":425,"z":125},{"m":"VM","x":440,"z":126},{"m":"VM","x":455,"z":128},{"m":"VM","x":470,"z":140},{"m":"VM","x":495,"z":157},{"m":"VM","x":520,"z":158},{"m":"VM","x":600,"z":155},{"m":"VM","x":658,"z":151},{"m":"VM","x":665,"z":145},{"m":"VM","x":660,"z":120},{"m":"VM","x":630,"z":80},{"m":"VM","x":590,"z":40},{"m":"VM","x":550,"z":5}
]
},
"vconcat": [
{
"spacing": 64,
"resolve": {"scale": {"color": "independent", "strokeDash": "independent"}, "legend": {"color": "independent", "strokeDash": "independent"}},
"hconcat": [
{
"title": "05", "width": 237, "height": 217,
"data": {"name": "p05"},
"mark": {"type": "line", "strokeWidth": 1.5, "clip": true},
"encoding": {
"x": {"field": "x", "type": "quantitative", "scale": {"domain": [-290, 271], "nice": false, "zero": false}, "axis": {"title": "X(m)", "values": [-200,-100,0,100,200], "titlePadding": 4}},
"y": {"field": "z", "type": "quantitative", "scale": {"domain": [-117, 397], "nice": false, "zero": false}, "axis": {"title": "Z(m)", "values": [-100,0,100,200,300], "minExtent": 22, "maxExtent": 22, "titlePadding": 1}},
"color": {"field": "m", "type": "nominal", "scale": {"domain": ["GT","VI","OR","EE","TS","DV","EK","VM"], "range": ["#0000FF","#FF0000","#0000FF","#BFBF00","#008000","#00BFBF","#BF00BF","#000000"]}, "legend": {"orient": "top-left", "labelExpr": "datum.label=='GT'?'Ground truth':datum.label=='VI'?'VINet':datum.label=='OR'?'ORB_SLAM2':datum.label=='EE'?'EE-LCVIO':datum.label=='TS'?'TSVO':datum.label=='DV'?'DeepVO':datum.label=='EK'?'EKF-VIO':'VINS-Mono'"}},
"strokeDash": {"field": "m", "type": "nominal", "scale": {"domain": ["GT","VI","OR","EE","TS","DV","EK","VM"], "range": [[1,0],[4,2],[4,2],[4,2],[1,0],[1,0],[1,0],[5,2,1,2]]}, "legend": {"orient": "top-left", "labelExpr": "datum.label=='GT'?'Ground truth':datum.label=='VI'?'VINet':datum.label=='OR'?'ORB_SLAM2':datum.label=='EE'?'EE-LCVIO':datum.label=='TS'?'TSVO':datum.label=='DV'?'DeepVO':datum.label=='EK'?'EKF-VIO':'VINS-Mono'"}},
"order": {"value": null}
}
},
{
"title": "07", "width": 240, "height": 220,
"data": {"name": "p07"},
"mark": {"type": "line", "strokeWidth": 1.5, "clip": true},
"encoding": {
"x": {"field": "x", "type": "quantitative", "scale": {"domain": [-229.5, 25.9], "nice": false, "zero": false}, "axis": {"title": "X(m)", "values": [-200,-150,-100,-50,0], "titlePadding": 4}},
"y": {"field": "z", "type": "quantitative", "scale": {"domain": [-113.7, 152], "nice": false, "zero": false}, "axis": {"title": "Z(m)", "values": [-100,-50,0,50,100,150], "minExtent": 22, "maxExtent": 22, "titlePadding": 3}},
"color": {"field": "m", "type": "nominal", "scale": {"domain": ["GT","VI","OR","EE","TS","DV","EK","VM"], "range": ["#0000FF","#FF0000","#0000FF","#BFBF00","#008000","#00BFBF","#BF00BF","#000000"]}, "legend": {"orient": "top-right", "labelExpr": "datum.label=='GT'?'Ground truth':datum.label=='VI'?'VINet':datum.label=='OR'?'ORB_SLAM2':datum.label=='EE'?'EE-LCVIO':datum.label=='TS'?'TSVO':datum.label=='DV'?'DeepVO':datum.label=='EK'?'EKF-VIO':'VINS-Mono'"}},
"strokeDash": {"field": "m", "type": "nominal", "scale": {"domain": ["GT","VI","OR","EE","TS","DV","EK","VM"], "range": [[1,0],[4,2],[4,2],[4,2],[1,0],[1,0],[1,0],[5,2,1,2]]}, "legend": {"orient": "top-right", "labelExpr": "datum.label=='GT'?'Ground truth':datum.label=='VI'?'VINet':datum.label=='OR'?'ORB_SLAM2':datum.label=='EE'?'EE-LCVIO':datum.label=='TS'?'TSVO':datum.label=='DV'?'DeepVO':datum.label=='EK'?'EKF-VIO':'VINS-Mono'"}},
"order": {"value": null}
}
}
]
},
{
"spacing": 75,
"resolve": {"scale": {"color": "independent", "strokeDash": "independent"}, "legend": {"color": "independent", "strokeDash": "independent"}},
"hconcat": [
{
"title": "09", "width": 228, "height": 232,
"data": {"name": "p09"},
"mark": {"type": "line", "strokeWidth": 1.5, "clip": true},
"encoding": {
"x": {"field": "x", "type": "quantitative", "scale": {"domain": [-160.6, 370.6], "nice": false, "zero": false}, "axis": {"title": "X(m)", "values": [-100,0,100,200,300], "titlePadding": 4}},
"y": {"field": "z", "type": "quantitative", "scale": {"domain": [-75, 579], "nice": false, "zero": false}, "axis": {"title": "Z(m)", "values": [0,100,200,300,400,500], "minExtent": 22, "maxExtent": 22, "titlePadding": 1}},
"color": {"field": "m", "type": "nominal", "scale": {"domain": ["GT","VI","OR","EE","TS","DV","EK","VM"], "range": ["#0000FF","#FF0000","#0000FF","#BFBF00","#008000","#00BFBF","#BF00BF","#000000"]}, "legend": {"orient": "top-left", "labelExpr": "datum.label=='GT'?'Ground truth':datum.label=='VI'?'VINet':datum.label=='OR'?'ORB_SLAM2':datum.label=='EE'?'EE-LCVIO':datum.label=='TS'?'TSVO':datum.label=='DV'?'DeepVO':datum.label=='EK'?'EKF-VIO':'VINS-Mono'"}},
"strokeDash": {"field": "m", "type": "nominal", "scale": {"domain": ["GT","VI","OR","EE","TS","DV","EK","VM"], "range": [[1,0],[4,2],[4,2],[4,2],[1,0],[1,0],[1,0],[5,2,1,2]]}, "legend": {"orient": "top-left", "labelExpr": "datum.label=='GT'?'Ground truth':datum.label=='VI'?'VINet':datum.label=='OR'?'ORB_SLAM2':datum.label=='EE'?'EE-LCVIO':datum.label=='TS'?'TSVO':datum.label=='DV'?'DeepVO':datum.label=='EK'?'EKF-VIO':'VINS-Mono'"}},
"order": {"value": null}
}
},
{
"title": "10", "width": 238, "height": 232,
"data": {"name": "p10"},
"mark": {"type": "line", "strokeWidth": 1.5, "clip": true},
"encoding": {
"x": {"field": "x", "type": "quantitative", "scale": {"domain": [-34.7, 717], "nice": false, "zero": false}, "axis": {"title": "X(m)", "values": [0,100,200,300,400,500,600,700], "titlePadding": 4}},
"y": {"field": "z", "type": "quantitative", "scale": {"domain": [-51.6, 168.3], "nice": false, "zero": false}, "axis": {"title": "Z(m)", "values": [-50,-25,0,25,50,75,100,125,150], "minExtent": 20, "maxExtent": 20, "titlePadding": 3}},
"color": {"field": "m", "type": "nominal", "scale": {"domain": ["GT","VI","OR","EE","TS","DV","EK","VM"], "range": ["#0000FF","#FF0000","#0000FF","#BFBF00","#008000","#00BFBF","#BF00BF","#000000"]}, "legend": {"orient": "top-left", "labelExpr": "datum.label=='GT'?'Ground truth':datum.label=='VI'?'VINet':datum.label=='OR'?'ORB_SLAM2':datum.label=='EE'?'EE-LCVIO':datum.label=='TS'?'TSVO':datum.label=='DV'?'DeepVO':datum.label=='EK'?'EKF-VIO':'VINS-Mono'"}},
"strokeDash": {"field": "m", "type": "nominal", "scale": {"domain": ["GT","VI","OR","EE","TS","DV","EK","VM"], "range": [[1,0],[4,2],[4,2],[4,2],[1,0],[1,0],[1,0],[5,2,1,2]]}, "legend": {"orient": "top-left", "labelExpr": "datum.label=='GT'?'Ground truth':datum.label=='VI'?'VINet':datum.label=='OR'?'ORB_SLAM2':datum.label=='EE'?'EE-LCVIO':datum.label=='TS'?'TSVO':datum.label=='DV'?'DeepVO':datum.label=='EK'?'EKF-VIO':'VINS-Mono'"}},
"order": {"value": null}
}
}
]
}
]
}
